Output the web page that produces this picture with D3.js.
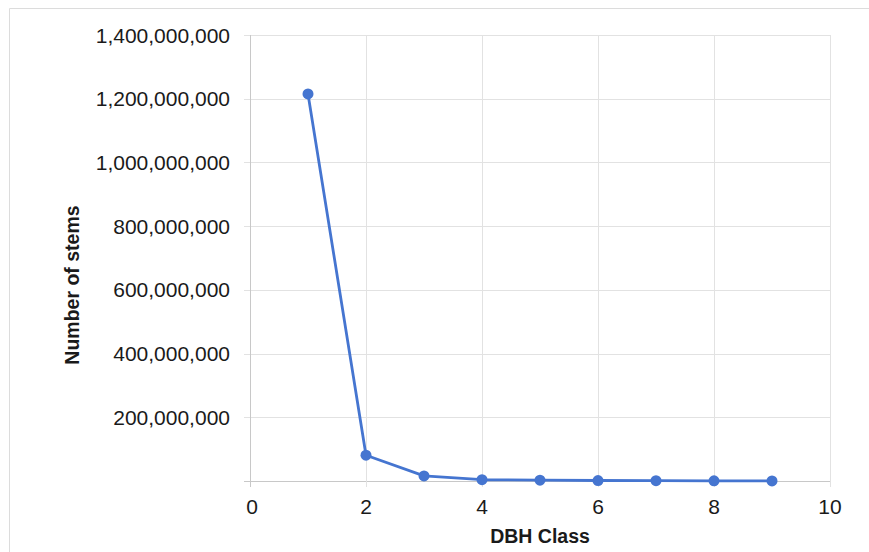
<!DOCTYPE html>
<html><head><meta charset="utf-8">
<script src="https://cdn.jsdelivr.net/npm/d3@7"></script>
<style>body{margin:0;background:#fff}svg{display:block}</style>
</head><body>
<svg id="c" width="869" height="552"></svg>
<script>
const dbhClass = [1, 2, 3, 4, 5, 6, 7, 8, 9];
const stems = [1215000000, 81000000, 16000000, 4000000, 2500000, 1500000, 1000000, 500000, 300000];
const xTicks = [0, 2, 4, 6, 8, 10];
const yTicks = [0, 200000000, 400000000, 600000000, 800000000, 1000000000, 1200000000, 1400000000];
const xTitle = "DBH Class";
const yTitle = "Number of stems";

const svg = d3.select("#c");
const font = "'Liberation Sans', Arial, Helvetica, sans-serif";
const m = {l: 250, r: 830, t: 35, b: 481};

// outer frame
svg.append("path").attr("d", "M9.5,560 V8.5 H880").attr("fill", "none").attr("stroke", "#dcdcdc").attr("stroke-width", 1);

const x = d3.scaleLinear().domain([0, 10]).range([m.l, m.r]);
const y = d3.scaleLinear().domain([0, 1400000000]).range([m.b, m.t]);

// grid
const g = svg.append("g");
g.selectAll(".hx").data(yTicks).join("line")
  .attr("x1", m.l - 6).attr("x2", m.r)
  .attr("y1", d => Math.round(y(d)) + 0.5).attr("y2", d => Math.round(y(d)) + 0.5)
  .attr("stroke", d => d === 0 ? "#c8c8c8" : "#e2e2e2").attr("stroke-width", 1);
g.selectAll(".vx").data(xTicks).join("line")
  .attr("x1", d => Math.round(x(d)) + 0.5).attr("x2", d => Math.round(x(d)) + 0.5)
  .attr("y1", m.t).attr("y2", m.b + 6)
  .attr("stroke", d => d === 0 ? "#c8c8c8" : "#e2e2e2").attr("stroke-width", 1);

// y labels
const fmt = d3.format(",");
svg.append("g").selectAll("text").data(yTicks.filter(d => d > 0)).join("text")
  .attr("x", 230).attr("y", d => y(d)).attr("dy", "0.36em")
  .attr("text-anchor", "end").attr("font-family", font).attr("font-size", 21).attr("fill", "#1a1a1a")
  .text(d => fmt(d));

// x labels
svg.append("g").selectAll("text").data(xTicks).join("text")
  .attr("x", d => x(d) + (d === 0 ? 2 : 0)).attr("y", 506).attr("dy", "0.36em")
  .attr("text-anchor", "middle").attr("font-family", font).attr("font-size", 21).attr("fill", "#1a1a1a")
  .text(d => d);

// titles
svg.append("text").attr("x", 540).attr("y", 536).attr("dy", "0.36em")
  .attr("text-anchor", "middle").attr("font-family", font).attr("font-size", 19.5).attr("font-weight", "bold").attr("fill", "#1a1a1a")
  .text(xTitle);
svg.append("text").attr("transform", "translate(72,285) rotate(-90)").attr("dy", "0.36em")
  .attr("text-anchor", "middle").attr("font-family", font).attr("font-size", 19.5).attr("font-weight", "bold").attr("fill", "#1a1a1a")
  .text(yTitle);

// line
const color = "#4575d0";
const data = dbhClass.map((c, i) => ({c, v: stems[i]}));
svg.append("path").datum(data)
  .attr("d", d3.line().x(d => x(d.c)).y(d => y(d.v)))
  .attr("fill", "none").attr("stroke", color).attr("stroke-width", 2.8).attr("stroke-linejoin", "round");
svg.append("g").selectAll("circle").data(data).join("circle")
  .attr("cx", d => x(d.c)).attr("cy", d => y(d.v)).attr("r", 5.5)
  .attr("fill", color);
</script>
</body></html>
